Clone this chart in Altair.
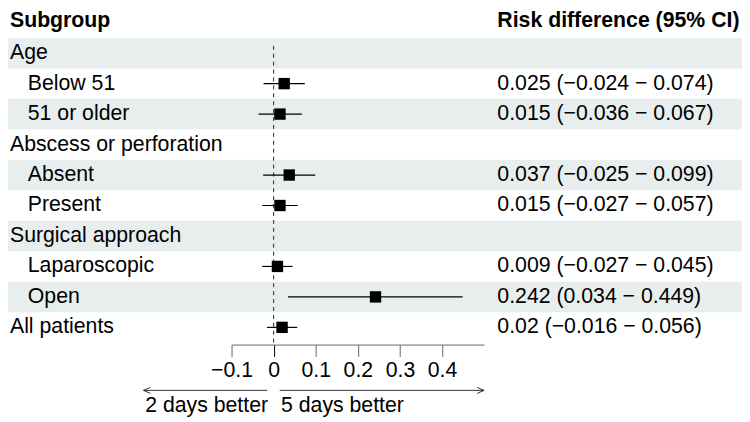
import altair as alt
import pandas as pd

# ---- data ----
labels = ["Age", "Below 51", "51 or older", "Abscess or perforation", "Absent",
          "Present", "Surgical approach", "Laparoscopic", "Open", "All patients"]
indent = [0, 1, 1, 0, 1, 1, 0, 1, 1, 0]
est = [None, 0.025, 0.015, None, 0.037, 0.015, None, 0.009, 0.242, 0.02]
lo = [None, -0.024, -0.036, None, -0.025, -0.027, None, -0.027, 0.034, -0.016]
hi = [None, 0.074, 0.067, None, 0.099, 0.057, None, 0.045, 0.449, 0.056]
tick_values = [-0.1, 0, 0.1, 0.2, 0.3, 0.4]
headers = ["Subgroup", "Risk difference (95% CI)"]
arrow_labels = ["2 days better", "5 days better"]


def fmt(v):
    return str(v).replace("-", "\u2212")


rows = []
for i, lab in enumerate(labels):
    r = {"row": i, "row1": i + 1, "mid": i + 0.5, "label": lab, "indent": indent[i],
         "est": est[i], "lo": lo[i], "hi": hi[i]}
    if est[i] is not None:
        r["ci"] = f"{fmt(est[i])} ({fmt(lo[i])} \u2212 {fmt(hi[i])})"
    else:
        r["ci"] = ""
    rows.append(r)
df = pd.DataFrame(rows)
dfe = df[df["est"].notna()]

FONT = "Liberation Sans"
FS = 21.5
W, H = 742, 338

xscale = alt.Scale(domain=[-0.1, 0.5], range=[226, 481.3], nice=False, zero=False)
yscale = alt.Scale(domain=[0, 10], range=[28, 336], nice=False, zero=False)
xaxis = alt.Axis(
    values=tick_values, format="~g", title=None, grid=False,
    domainColor="#666666", domainWidth=1,
    tickColor={"condition": {"test": "datum.value === 0", "value": "#000000"}, "value": "#666666"},
    tickSize=12, tickWidth=1, labelFontSize=FS, labelFont=FONT, labelColor="#000000",
    labelPadding=3, labelFlush=False,
)

base = alt.Chart(df)

bands = base.transform_filter("datum.row % 2 == 0").mark_rect(color="#e8eeee").encode(
    x=alt.value(0), x2=alt.value(W),
    y=alt.Y("row:Q", scale=yscale, axis=None), y2="row1:Q",
)

zero_df = pd.DataFrame({"ref": [0]})
zero_line = alt.Chart(zero_df).mark_rule(color="#222222", strokeDash=[4, 4], strokeWidth=1).encode(
    x=alt.X("ref:Q", scale=xscale, axis=xaxis),
    y=alt.value(36), y2=alt.value(H),
)

ci = alt.Chart(dfe).mark_rule(color="#000000", strokeWidth=1.2).encode(
    x=alt.X("lo:Q", scale=xscale, axis=xaxis), x2="hi:Q",
    y=alt.Y("mid:Q", scale=yscale, axis=None),
)

pts = alt.Chart(dfe).mark_point(shape="square", filled=True, color="#000000", size=132, opacity=1).encode(
    x=alt.X("est:Q", scale=xscale, axis=xaxis),
    y=alt.Y("mid:Q", scale=yscale, axis=None),
)

lab0 = base.transform_filter("datum.indent == 0").mark_text(
    align="left", baseline="middle", font=FONT, fontSize=FS, color="#000000"
).encode(x=alt.value(2), y=alt.Y("mid:Q", scale=yscale, axis=None), text="label:N")

lab1 = base.transform_filter("datum.indent == 1").mark_text(
    align="left", baseline="middle", font=FONT, fontSize=FS, color="#000000"
).encode(x=alt.value(20), y=alt.Y("mid:Q", scale=yscale, axis=None), text="label:N")

ci_txt = alt.Chart(dfe).mark_text(
    align="left", baseline="middle", font=FONT, fontSize=FS, color="#000000"
).encode(x=alt.value(494.7), y=alt.Y("mid:Q", scale=yscale, axis=None), text="ci:N")

hdr_df = pd.DataFrame({"t": headers})
hdr1 = alt.Chart(hdr_df).transform_filter(alt.datum.t == headers[0]).mark_text(
    align="left", baseline="middle", font=FONT, fontSize=FS, fontWeight="bold", color="#000000"
).encode(x=alt.value(2), y=alt.value(11), text="t:N")
hdr2 = alt.Chart(hdr_df).transform_filter(alt.datum.t == headers[1]).mark_text(
    align="left", baseline="middle", font=FONT, fontSize=FS, fontWeight="bold", color="#000000"
).encode(x=alt.value(494.7), y=alt.value(11), text="t:N")

arr_df = pd.DataFrame({"t": arrow_labels})
AY = 384.3
ARROW_C = "#333333"
larrow = alt.Chart(arr_df).transform_filter(alt.datum.t == arrow_labels[0]).mark_rule(
    color=ARROW_C, strokeWidth=1).encode(x=alt.value(137), x2=alt.value(262), y=alt.value(AY))
rarrow = alt.Chart(arr_df).transform_filter(alt.datum.t == arrow_labels[1]).mark_rule(
    color=ARROW_C, strokeWidth=1).encode(x=alt.value(274.7), x2=alt.value(481.3), y=alt.value(AY))
lhead = alt.Chart(arr_df).transform_filter(alt.datum.t == arrow_labels[0]).mark_point(
    shape="M 1 -0.43 L 0 0 L 1 0.43", filled=False, color=ARROW_C, strokeWidth=1, size=196, opacity=1
).encode(x=alt.value(137), y=alt.value(AY))
rhead = alt.Chart(arr_df).transform_filter(alt.datum.t == arrow_labels[1]).mark_point(
    shape="M -1 -0.43 L 0 0 L -1 0.43", filled=False, color=ARROW_C, strokeWidth=1, size=196, opacity=1
).encode(x=alt.value(481.3), y=alt.value(AY))
ltxt = alt.Chart(arr_df).transform_filter(alt.datum.t == arrow_labels[0]).mark_text(
    align="left", baseline="middle", font=FONT, fontSize=FS, color="#000000"
).encode(x=alt.value(138.7), y=alt.value(400), text="t:N")
rtxt = alt.Chart(arr_df).transform_filter(alt.datum.t == arrow_labels[1]).mark_text(
    align="left", baseline="middle", font=FONT, fontSize=FS, color="#000000"
).encode(x=alt.value(276), y=alt.value(400), text="t:N")

chart = alt.layer(
    bands, zero_line, ci, pts, lab0, lab1, ci_txt, hdr1, hdr2,
    larrow, rarrow, lhead, rhead, ltxt, rtxt
).properties(
    width=W, height=H,
    autosize=alt.AutoSizeParams(type="none"),
    padding={"left": 0, "top": 0, "right": 0, "bottom": 76},
).configure(font=FONT).configure_view(strokeWidth=0, stroke="transparent")

chart.save("out.html", embed_options={"renderer": "svg", "actions": False})
